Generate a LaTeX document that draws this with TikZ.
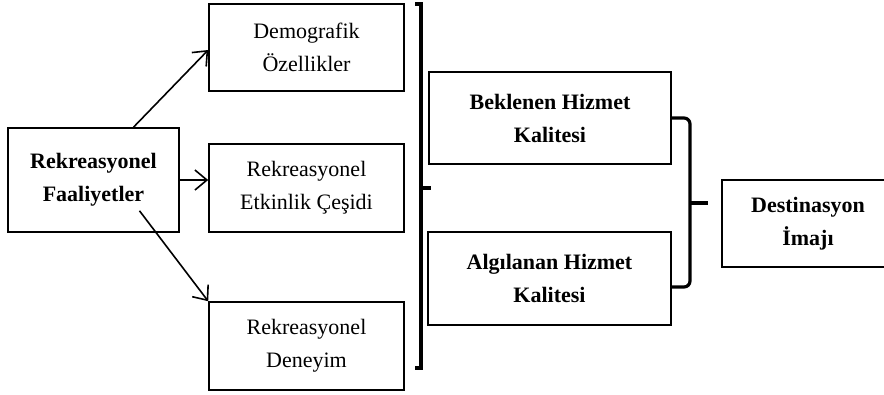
\documentclass[tikz,border=0pt]{standalone}
\usepackage{fontspec}
\setmainfont{Liberation Serif}
\usetikzlibrary{calc, arrows.meta}

\begin{document}
\begin{tikzpicture}[x=1pt, y=-1pt,
  every node/.style={font=\fontsize{22}{33}\selectfont},
  box/.style={draw, line width=1.6pt, align=center, inner sep=0pt},
  arr/.style={-{Straight Barb[length=12pt, width=20pt, line width=1.6pt]}, line width=1.6pt},
  brace/.style={line width=3.2pt}]

  \useasboundingbox (0,0) rectangle (884,394);

  % sol taraf
  \node[box, minimum width=171pt, minimum height=104pt, font=\fontsize{22}{33}\selectfont\bfseries]
    (fa) at (93.5,180) {Rekreasyonel\\Faaliyetler};

  % orta sütun
  \node[box, minimum width=195pt, minimum height=87pt]  (dem) at (306.5,47.5) {Demografik\\Özellikler};
  \node[box, minimum width=195pt, minimum height=88pt]  (etk) at (306.5,188)  {Rekreasyonel\\Etkinlik Çeşidi};
  \node[box, minimum width=195pt, minimum height=88pt]  (den) at (306.5,346)  {Rekreasyonel\\Deneyim};

  % hizmet kalitesi
  \node[box, minimum width=242pt, minimum height=92pt, font=\fontsize{22}{33}\selectfont\bfseries]
    (bek) at (550,118) {Beklenen Hizmet\\Kalitesi};
  \node[box, minimum width=243pt, minimum height=93pt, font=\fontsize{22}{33}\selectfont\bfseries]
    (alg) at (549.5,278.5) {Algılanan Hizmet\\Kalitesi};

  % sonuç (sağ kenarda kesik)
  \node[box, minimum width=172pt, minimum height=87pt, font=\fontsize{22}{33}\selectfont\bfseries]
    (dst) at (808,223.5) {Destinasyon\\İmajı};

  % oklar
  \draw[arr] ([xshift=40pt]fa.north) -- (dem.west |- 0,50);
  \draw[arr] (fa.east) -- (fa.east -| etk.west);
  \draw[arr] ([shift={(46,-22)}]fa.south) -- (den.north west);

  % büyük köşeli parantez
  \coordinate (p1) at (421,4);
  \coordinate (p2) at (421,368);
  \coordinate (pm) at (421,188);
  \draw[brace] ([xshift=-6pt]p1) -- (p1) -- (p2) -- ([xshift=-6pt]p2);
  \draw[brace] (pm) -- ++(10,0);

  % küçük parantez
  \coordinate (q1) at (690,203);
  \draw[brace, rounded corners=6pt] (bek.east) -| (q1) |- (671,287);
  \draw[brace] (q1) -- ++(18,0);
\end{tikzpicture}
\end{document}
